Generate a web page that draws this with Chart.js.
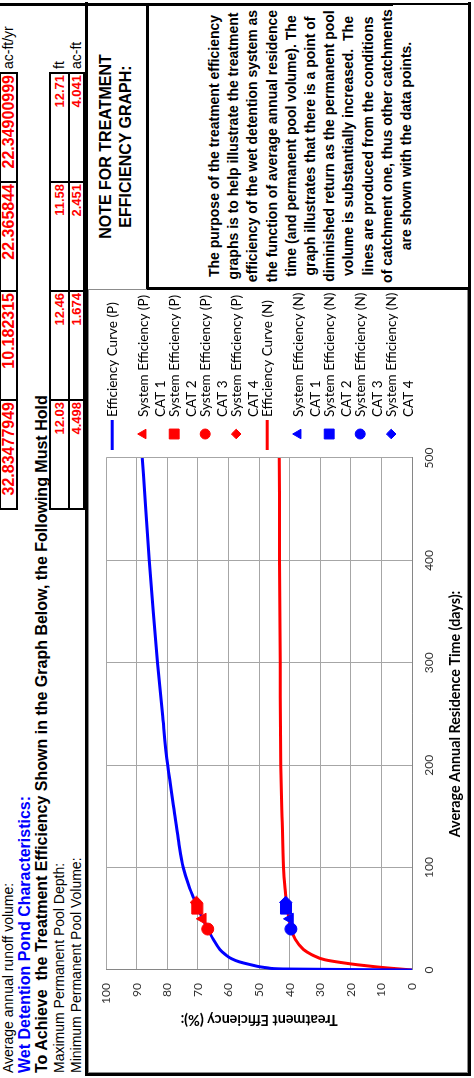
<!DOCTYPE html>
<html>
<head>
<meta charset="utf-8">
<script src="https://cdn.jsdelivr.net/npm/chart.js@4.4.1/dist/chart.umd.min.js"></script>
<style>
html,body{margin:0;padding:0;background:#fff;width:474px;height:1078px;overflow:hidden;}
#page{position:absolute;left:0;top:0;width:1078px;height:474px;background:#fff;transform-origin:0 0;transform:translate(0px,1078px) rotate(-90deg);font-family:"Liberation Sans",Arial,sans-serif;color:#000;overflow:hidden;}
#chartWrap{position:absolute;left:0;top:86px;width:789px;height:384px;}
#chartWrap canvas{display:block;}
.t{position:absolute;white-space:nowrap;left:5px;}
.v{position:absolute;color:#ff0000;font-weight:bold;text-align:right;white-space:nowrap;box-sizing:border-box;padding-right:2px;}
.u{position:absolute;white-space:nowrap;font-size:14px;}
.k{position:absolute;background:#000;}
.g{position:absolute;border:1px solid #8c8c8c;box-sizing:border-box;}
#noteTitle{position:absolute;left:789px;width:285px;top:96px;font-weight:bold;font-size:16px;line-height:20px;text-align:center;white-space:nowrap;}
#notePara{position:absolute;left:790px;width:284px;top:205px;font-weight:bold;font-size:14px;line-height:19.2px;text-align:center;white-space:nowrap;}
</style>
</head>
<body>
<div id="page">
  <div id="chartWrap"><canvas id="c" width="789" height="384"></canvas></div>
  <div class="g" style="left:5px;top:88px;width:784px;height:380px;"></div>

  <div class="t" style="top:0;height:17px;line-height:17px;font-size:14px;">Average annual runoff volume:</div>
  <div class="t" style="top:17px;height:16px;line-height:16px;font-size:16px;font-weight:bold;color:#0000ff;">Wet Detention Pond Characteristics:</div>
  <div class="t" style="top:33px;height:18px;line-height:18px;font-size:16px;font-weight:bold;">To Achieve&nbsp; the Treatment Efficiency Shown in the Graph Below, the Following Must Hold</div>
  <div class="t" style="top:51px;height:17px;line-height:17px;font-size:14px;">Maximum Permanent Pool Depth:</div>
  <div class="t" style="top:68px;height:16px;line-height:16px;font-size:14px;">Minimum Permanent Pool Volume:</div>

  <div id="cells"></div>

  <div class="u" style="left:1009px;top:0;line-height:17px;">ac-ft/yr</div>
  <div class="u" style="left:1009px;top:51px;line-height:17px;">ft</div>
  <div class="u" style="left:1009px;top:68px;line-height:16px;">ac-ft</div>

  <div id="noteTitle">NOTE FOR TREATMENT<br>EFFICIENCY GRAPH:</div>
  <div id="notePara">The purpose of the treatment efficiency<br>graphs is to help illustrate the treatment<br>efficiency of the wet detention system as<br>the function of average annual residence<br>time (and permanent pool volume). The<br>graph illustrates that there is a point of<br>diminished return as the permanent pool<br>volume is substantially increased.&nbsp; The<br>lines are produced from the conditions<br>of catchment one, thus other catchments<br>are shown with the data points.</div>

  <!-- thick borders -->
  <div class="k" style="left:2px;top:85px;width:1074px;height:3px;"></div>
  <div class="k" style="left:2px;top:468px;width:1074px;height:3px;"></div>
  <div class="k" style="left:2px;top:85px;width:3px;height:386px;"></div>
  <div class="k" style="left:1072px;top:0;width:3px;height:393px;"></div>
  <div class="k" style="left:1073px;top:393px;width:2px;height:78px;"></div>
  <div class="k" style="left:789px;top:146px;width:285px;height:3px;"></div>
  <div class="k" style="left:788px;top:147px;width:3px;height:324px;"></div>
</div>

<script>
// ---- table values ----
const runoffVolumes = ["32.83477949", "10.182315", "22.365844", "22.34900999"];
const poolDepths = ["12.03", "12.46", "11.58", "12.71"];
const poolVolumes = ["4.498", "1.674", "2.451", "4.041"];

// ---- chart data ----
const residenceP = [0, 1, 2, 3, 5, 8, 11, 15, 20, 30, 40, 50, 60, 70, 80, 100, 125, 150, 200, 250, 300, 350, 400, 450, 500];
const efficiencyP = [0, 42, 47, 49.5, 52.5, 56.5, 59, 61, 62.8, 65, 66.8, 68.4, 69.9, 71.3, 72.7, 74.8, 76.3, 77.5, 79.9, 81.6, 83.2, 84.6, 85.9, 87.1, 88.2];
const residenceN = [0, 1, 2, 3, 5, 7, 10, 15, 20, 30, 40, 50, 60, 80, 100, 150, 200, 300, 400, 500];
const efficiencyN = [0, 4, 8, 11.5, 17.5, 22.5, 28.5, 32.8, 35.5, 38.2, 39.5, 40.2, 40.8, 41.5, 42, 42.5, 42.9, 43.1, 43.3, 43.4];
const catResidence = [50, 60, 40, 66];
const catEffP = [68.4, 70.2, 66.8, 70.5];
const catEffN = [39.9, 41.2, 39.6, 41.3];
const catNames = ["CAT 1", "CAT 2", "CAT 3", "CAT 4"];
const catShapes = ["triangle", "rect", "circle", "rectRot"];
const catRadius = [6.5, 7.8, 6, 6.2];
const catLegendRadius = [5.5, 7, 5, 4.8];
const xTickStep = 100, xMax = 500;
const yTickStep = 10, yMax = 100;
const xTitle = "Average Annual Residence Time (days):";
const yTitle = "Treatment Efficiency (%):";

const BLUE = "#0000ff", RED = "#ff0000";

// build table cells
(function () {
  const edges = [569, 678, 787, 896, 1005];
  const host = document.getElementById('cells');
  let html = '';
  const cell = (i, top, h, size, txt) =>
    `<div class="v" style="left:${edges[i]}px;width:${edges[i + 1] - edges[i]}px;top:${top}px;height:${h}px;line-height:${h}px;font-size:${size}px;">${txt}</div>`;
  for (let i = 0; i < 4; i++) {
    html += cell(i, 0, 17, 16, runoffVolumes[i]);
    html += cell(i, 50, 19, 13, poolDepths[i]);
    html += cell(i, 69, 15, 13, poolVolumes[i]);
  }
  const hl = (top, h) => `<div class="k" style="left:${edges[0] - 1}px;top:${top}px;width:${edges[4] - edges[0] + 2}px;height:${h}px;"></div>`;
  html += hl(0, 1) + hl(16, 2) + hl(49, 2) + hl(68, 2) + hl(83, 2);
  edges.forEach(e => {
    html += `<div class="k" style="left:${e - 1}px;top:0;width:2px;height:18px;"></div>`;
    html += `<div class="k" style="left:${e - 1}px;top:49px;width:2px;height:36px;"></div>`;
  });
  host.innerHTML = html;
})();

const toXY = (xs, ys) => xs.map((x, i) => ({ x: x, y: ys[i] }));

const legendLabels = [["Efficiency Curve (P)"]]
  .concat(catNames.map(n => ["System Efficiency (P)", n]))
  .concat([["Efficiency Curve (N)"]])
  .concat(catNames.map(n => ["System Efficiency (N)", n]));
const legendRadius = [0].concat(catLegendRadius).concat([0]).concat(catLegendRadius);

function curve(label, xs, ys, color) {
  return { label: label, data: toXY(xs, ys), showLine: true, borderColor: color, backgroundColor: color,
    borderWidth: 3, pointRadius: 0, pointHoverRadius: 0, cubicInterpolationMode: 'monotone', order: 2 };
}
function markers(prefix, effs, color) {
  return catNames.map((n, i) => ({
    label: prefix + ' ' + n, data: [{ x: catResidence[i], y: effs[i] }],
    pointStyle: catShapes[i], pointRadius: catRadius[i], pointHoverRadius: catRadius[i],
    backgroundColor: color, borderColor: color, borderWidth: 1, order: 1
  }));
}

const datasets = [curve("Efficiency Curve (P)", residenceP, efficiencyP, BLUE)]
  .concat(markers("System Efficiency (P)", catEffP, RED))
  .concat([curve("Efficiency Curve (N)", residenceN, efficiencyN, RED)])
  .concat(markers("System Efficiency (N)", catEffN, BLUE));

const PLOT_RIGHT = 620, PLOT_LEFT = 108, PLOT_TOP = 16, PLOT_BOTTOM = 326;
const CANVAS_W = 789, CANVAS_H = 384;

// legend drawn next to the plot with Chart.js point helper
const sideLegend = {
  id: 'sideLegend',
  afterDraw(chart) {
    const ctx = chart.ctx;
    const x0 = chart.chartArea.right + 8;
    let y = chart.chartArea.top + 6;
    chart.data.datasets.forEach((ds, i) => {
      ctx.save();
      if (ds.showLine) {
        ctx.strokeStyle = ds.borderColor;
        ctx.lineWidth = 3;
        ctx.beginPath();
        ctx.moveTo(x0, y);
        ctx.lineTo(x0 + 30, y);
        ctx.stroke();
      } else {
        ctx.fillStyle = ds.backgroundColor;
        ctx.strokeStyle = ds.borderColor;
        ctx.lineWidth = 1;
        Chart.helpers.drawPoint(ctx, { pointStyle: ds.pointStyle, radius: legendRadius[i], borderWidth: 1, rotation: 0 }, x0 + 16, y);
      }
      ctx.fillStyle = '#000';
      ctx.font = '13.5px Lato';
      ctx.textAlign = 'left';
      ctx.textBaseline = 'middle';
      legendLabels[i].forEach((t, k) => ctx.fillText(t, x0 + 33, y + k * 17));
      ctx.restore();
      y += 31;
    });
  }
};

const chart = new Chart(document.getElementById('c'), {
  type: 'scatter',
  data: { datasets: datasets },
  plugins: [sideLegend],
  options: {
    responsive: false,
    animation: false,
    devicePixelRatio: 1,
    events: [],
    layout: { padding: { top: PLOT_TOP, left: 0, bottom: 0, right: CANVAS_W - PLOT_RIGHT } },
    plugins: {
      tooltip: { enabled: false },
      legend: { display: false }
    },
    scales: {
      x: {
        type: 'linear', min: 0, max: xMax,
        ticks: { stepSize: xTickStep, padding: 10, color: '#333', font: { family: 'Lato', size: 12 } },
        grid: { color: '#a6a6a6', drawTicks: false },
        border: { color: '#868686' },
        title: { display: true, text: xTitle, color: '#000', font: { family: 'Lato', size: 14.3, weight: 'bold' }, padding: { top: 0, bottom: 6 } },
        afterFit(s) { s.height = CANVAS_H - PLOT_BOTTOM; }
      },
      y: {
        type: 'linear', min: 0, max: yMax,
        ticks: { stepSize: yTickStep, padding: 13, color: '#333', font: { family: 'Lato', size: 12 } },
        grid: { color: '#a6a6a6', drawTicks: false },
        border: { color: '#868686' },
        title: { display: true, text: yTitle, color: '#000', font: { family: 'Lato', size: 14.3, weight: 'bold' }, padding: { top: 50, bottom: 0 } },
        afterFit(s) { s.width = PLOT_LEFT; }
      }
    }
  }
});
</script>
</body>
</html>
